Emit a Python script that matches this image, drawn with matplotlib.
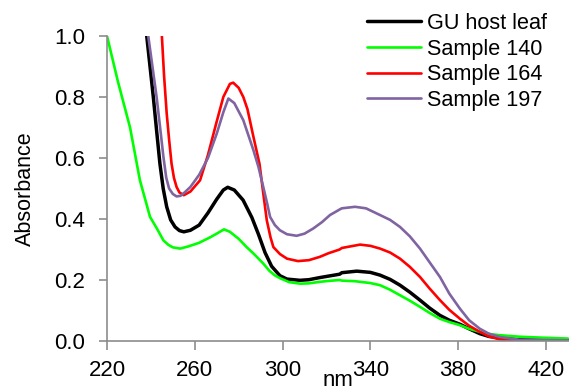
import matplotlib
matplotlib.use("Agg")
import matplotlib.pyplot as plt

# UV absorbance spectra (nm vs absorbance)
wl_host = [238.1, 239.6, 241.1, 242.6, 244.1, 245.6, 247.2, 249, 251, 253, 255, 258, 262,
           266, 270, 273, 275, 278, 282, 286, 289, 292, 295, 298.8, 302, 307.9, 312, 317,
           326, 327, 333.8, 340, 344.4, 349, 353.5, 358, 362.6, 367, 371.7, 376, 380.8,
           385, 389.9, 394, 399, 408, 430]
abs_host = [1.0, 0.90, 0.80, 0.69, 0.582, 0.50, 0.44, 0.397, 0.374, 0.362, 0.358, 0.363,
            0.38, 0.42, 0.465, 0.495, 0.504, 0.495, 0.462, 0.405, 0.35, 0.29, 0.245, 0.214,
            0.203, 0.199, 0.201, 0.208, 0.219, 0.224, 0.229, 0.225, 0.216, 0.202, 0.183,
            0.16, 0.134, 0.108, 0.084, 0.068, 0.055, 0.04, 0.024, 0.015, 0.010, 0.004, 0.002]

wl_140 = [220, 225, 230.5, 235, 239.6, 242.8, 245.7, 248, 250, 253.3, 257, 262, 267, 270,
          273.3, 276, 280, 283.6, 287, 291.2, 294, 296.5, 298.8, 303, 308, 312, 317, 321,
          326, 327, 333, 340, 344.4, 349, 353.5, 358, 362.6, 367, 371.7, 376, 380.8, 385,
          389.9, 394, 399, 408, 418, 430]
abs_140 = [1.0, 0.85, 0.70, 0.527, 0.407, 0.368, 0.33, 0.315, 0.307, 0.303, 0.31, 0.322,
           0.34, 0.352, 0.366, 0.358, 0.335, 0.308, 0.285, 0.254, 0.23, 0.215, 0.206,
           0.193, 0.188, 0.189, 0.194, 0.197, 0.200, 0.198, 0.196, 0.19, 0.183, 0.168,
           0.15, 0.132, 0.112, 0.092, 0.073, 0.062, 0.052, 0.04, 0.030, 0.023, 0.019,
           0.014, 0.011, 0.008]

wl_164 = [245, 246, 247.2, 248.3, 249.4, 250.5, 251.7, 253, 255, 258, 262.4, 266, 270, 273,
          276, 277.5, 280, 282.1, 284, 286.7, 289.5, 291.2, 292.8, 294.5, 295.8, 298.8, 302,
          307, 312, 317, 321, 326, 327, 335.3, 340, 344.4, 349, 353.5, 358, 362.6, 367,
          371.7, 376, 380.8, 385, 389.9, 394, 399, 410, 430]
abs_164 = [1.0, 0.87, 0.746, 0.66, 0.582, 0.535, 0.505, 0.487, 0.478, 0.49, 0.527, 0.61,
           0.72, 0.80, 0.843, 0.847, 0.83, 0.80, 0.76, 0.67, 0.58, 0.484, 0.396, 0.34, 0.308,
           0.285, 0.27, 0.262, 0.265, 0.276, 0.288, 0.300, 0.305, 0.316, 0.312, 0.303, 0.29,
           0.27, 0.243, 0.21, 0.172, 0.134, 0.102, 0.073, 0.05, 0.030, 0.015, 0.005, 0.0, 0.0]

wl_197 = [238.8, 240.7, 242.6, 244.2, 245.7, 247, 248.3, 250, 251.7, 253.5, 255.5, 258, 262,
          266, 270, 273, 275.3, 278, 282.1, 286.7, 289, 291.2, 293, 294.3, 296.5, 298.8,
          302, 306.4, 310, 314, 318, 321.6, 326.2, 327, 333, 338, 344.4, 349, 353.5, 358,
          362.6, 367, 371.7, 376, 380.8, 385, 389.9, 394, 399, 408, 430]
abs_197 = [1.0, 0.90, 0.80, 0.70, 0.604, 0.535, 0.50, 0.482, 0.474, 0.476, 0.488, 0.505,
           0.545, 0.60, 0.68, 0.75, 0.795, 0.78, 0.724, 0.626, 0.571, 0.505, 0.45, 0.407,
           0.38, 0.363, 0.35, 0.345, 0.352, 0.369, 0.39, 0.413, 0.432, 0.435, 0.44, 0.435,
           0.413, 0.397, 0.374, 0.343, 0.303, 0.258, 0.21, 0.155, 0.106, 0.068, 0.040,
           0.024, 0.013, 0.004, 0.002]

series_names = ["GU host leaf", "Sample 140", "Sample 164", "Sample 197"]
x_ticks = [220, 260, 300, 340, 380, 420]
y_ticks = [0.0, 0.2, 0.4, 0.6, 0.8, 1.0]

font = "Liberation Sans"

fig = plt.figure(figsize=(5.69, 3.91), dpi=100)
ax = fig.add_axes([107 / 569, 50 / 391, 462 / 569, 305 / 391])

colors = ["#000000", "#00FF00", "#FF0000", "#8064A2"]
widths = [2.5, 1.9, 1.9, 1.9]
data = [(wl_host, abs_host), (wl_140, abs_140), (wl_164, abs_164), (wl_197, abs_197)]
handles = []
for (xs, ys), name, c, lw in zip(data, series_names, colors, widths):
    h, = ax.plot(xs, ys, color=c, lw=lw, label=name, solid_joinstyle="round",
                 solid_capstyle="round")
    handles.append(h)

ax.set_xlim(220, 430.5)
ax.set_ylim(0, 1.0)
ax.set_xticks(x_ticks)
ax.set_yticks(y_ticks)
ax.set_yticklabels([f"{v:.1f}" for v in y_ticks])
ax.set_xticklabels([str(v) for v in x_ticks])

for side in ("top", "right"):
    ax.spines[side].set_visible(False)
for side in ("left", "bottom"):
    ax.spines[side].set_color("#8c8c8c")
    ax.spines[side].set_linewidth(1.2)
ax.tick_params(axis="both", direction="out", color="#8c8c8c", width=1.2, labelsize=16)
ax.tick_params(axis="y", length=6, pad=10)
ax.tick_params(axis="x", length=6.5, pad=7)
for lab in ax.get_xticklabels() + ax.get_yticklabels():
    lab.set_fontfamily(font)

ax.set_ylabel("Absorbance", fontsize=15.5, fontfamily=font)
ax.yaxis.set_label_coords(-0.153, 0.5)
fig.text(338 / 569, 0, "nm", ha="center", va="bottom", fontsize=16, fontfamily=font)

fig.legend(handles=handles, loc="upper left", bbox_to_anchor=(367 / 569, 1 - 13 / 391),
           frameon=False, borderpad=0, borderaxespad=0, handlelength=2.5,
           handletextpad=0.28, labelspacing=0.21,
           prop={"family": font, "size": 15.6})

fig.savefig("out.png", dpi=100)
